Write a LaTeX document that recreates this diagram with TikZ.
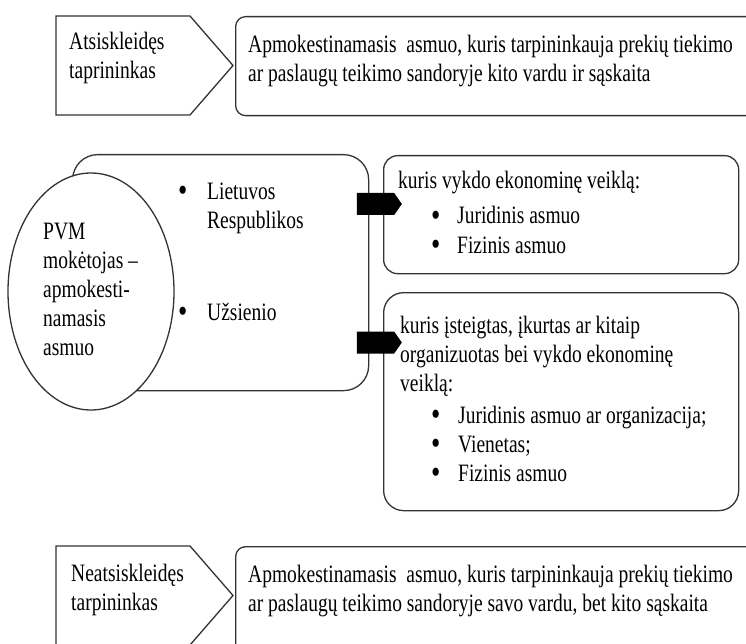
\documentclass[tikz,border=0pt]{standalone}
\usepackage{fontspec}
\setmainfont[FakeStretch=0.78]{Liberation Serif}
\usetikzlibrary{shapes.symbols,shapes.geometric}
\newcommand\fsz{\fontsize{25}{29}\selectfont}
\newcommand\bigbul{\smash{\raisebox{-2.5pt}{\fontsize{34}{29}\selectfont\textbullet}}}
\newcommand\litem[2]{\hspace*{#1}\makebox[#2][l]{\bigbul}}
\begin{document}
\begin{tikzpicture}[x=1pt,y=-1pt,
  box/.style={draw=black!80, line width=1.3pt, fill=white},
  txt/.style={anchor=base west, inner sep=0pt, align=left, font=\fsz},
  blk/.style={shape=signal, signal to=east, fill=black, draw=none,
    minimum width=45pt, minimum height=22pt, inner sep=0pt, signal pointer angle=110}]
\useasboundingbox (0,0) rectangle (746,644);
\clip (0,0) rectangle (746,644);

% top row (text nodes are anchored at the baseline of their last line)
\draw[box] (56,16) -- (190,16) -- (233,65.5) -- (190,115) -- (56,115) -- cycle;
\coordinate (toptip) at (233,65.5);
\node[box, rounded corners=10pt, anchor=north west, minimum width=525pt, minimum height=99pt] (topdef) at (235,16) {};
\node[txt] (toplab) at (69,79) {Atsiskleidęs\\taprininkas};
\node[txt] (toptxt) at (248,82) {Apmokestinamasis\ \ asmuo, kuris tarpininkauja prekių tiekimo\\ar paslaugų teikimo sandoryje kito vardu ir sąskaita};

% middle
\node[box, rounded corners=25pt, anchor=north west, minimum width=296pt, minimum height=236pt] (big) at (72,154) {};
\node[box, ellipse, minimum width=166pt, minimum height=237pt, inner sep=0pt] (pvm) at (91,291.5) {};
\node[txt] (pvmtxt) at (43,355.5) {PVM\\mokėtojas –\\apmokesti-\\namasis\\asmuo};
\node[txt] (lt) at (178,228.5) {\makebox[29pt][l]{\bigbul}Lietuvos\\\hspace*{29pt}Respublikos};
\node[txt] (uz) at (178,320) {\makebox[29pt][l]{\bigbul}Užsienio};

\node[box, rounded corners=14pt, anchor=north west, minimum width=355pt, minimum height=118pt] (box1) at (383,155) {};
\node[txt] (box1txt) at (398,253) {kuris vykdo ekonominę veiklą:\\[6pt]
  \litem{33pt}{26pt}Juridinis asmuo\\
  \litem{33pt}{26pt}Fizinis asmuo};

\node[box, rounded corners=20pt, anchor=north west, minimum width=355pt, minimum height=218pt] (box2) at (383,292) {};
\node[txt] (box2txt) at (400,481) {kuris įsteigtas, įkurtas ar kitaip\\organizuotas bei vykdo ekonominę\\veiklą:\\[3pt]
  \litem{31pt}{27pt}Juridinis asmuo ar organizacija;\\
  \litem{31pt}{27pt}Vienetas;\\
  \litem{31pt}{27pt}Fizinis asmuo};

\node[blk] (a1) at (375.5,204) {};
\node[blk] (a2) at (375.5,342.5) {};

% bottom row
\draw[box] (56,546) -- (190,546) -- (233,595.5) -- (190,645) -- (56,645) -- cycle;
\node[box, rounded corners=10pt, anchor=north west, minimum width=525pt, minimum height=120pt] (botdef) at (235,546) {};
\node[txt] (botlab) at (71,610) {Neatsiskleidęs\\tarpininkas};
\node[txt] (bottxt) at (248,611) {Apmokestinamasis\ \ asmuo, kuris tarpininkauja prekių tiekimo\\ar paslaugų teikimo sandoryje savo vardu, bet kito sąskaita};
\end{tikzpicture}
\end{document}
